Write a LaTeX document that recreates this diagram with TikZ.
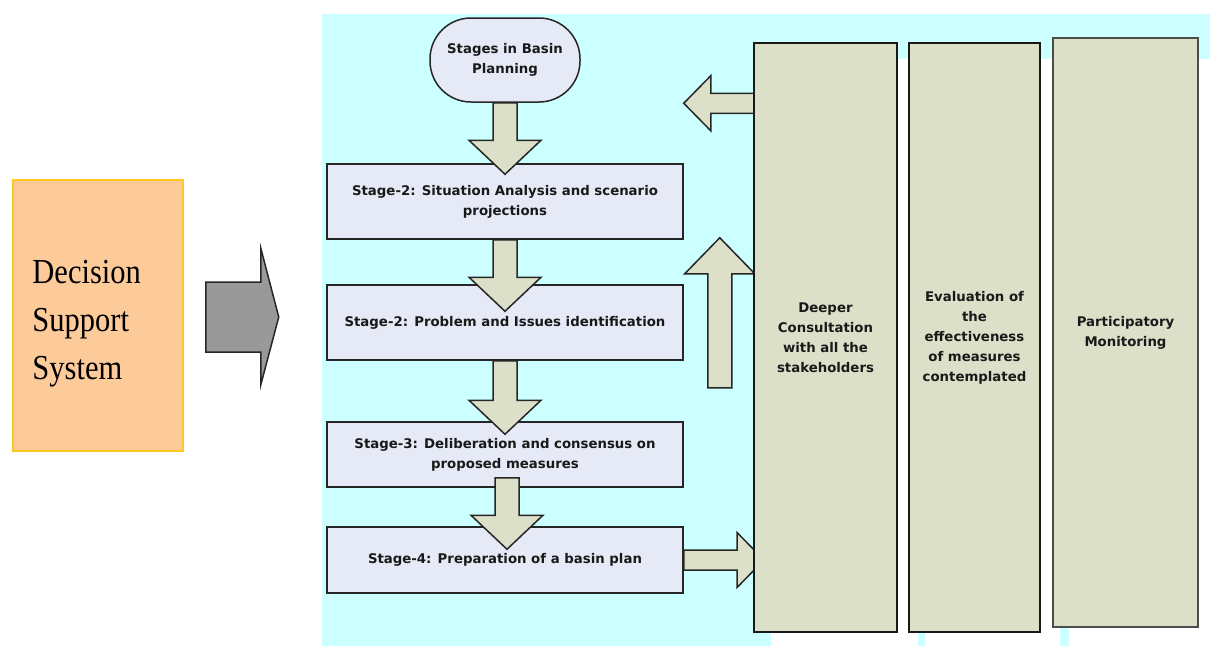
\documentclass[tikz,border=0pt]{standalone}
\usepackage{fontspec}
\usetikzlibrary{calc}
\newfontfamily\djv{DejaVu Sans}
\newfontfamily\tnr{Liberation Serif}
\definecolor{bgcyan}{HTML}{CCFFFF}
\definecolor{boxlav}{HTML}{E6EAF6}
\definecolor{khaki}{HTML}{DDE0C9}
\definecolor{peach}{HTML}{FDCA99}
\definecolor{gold}{HTML}{FFC81E}
\definecolor{grayarrow}{HTML}{999999}
\definecolor{edge}{HTML}{262626}
\pgfdeclarelayer{bg}
\pgfdeclarelayer{mid}
\pgfsetlayers{bg,mid,main}
\newcommand{\dnarrow}[2]{%
  \draw[barrow] ($(#1)+(-12,0)$) -- ($(#2)+(-12,-34)$) -- ($(#2)+(-36,-34)$) -- (#2)
    -- ($(#2)+(36,-34)$) -- ($(#2)+(12,-34)$) -- ($(#1)+(12,0)$) -- cycle;}
\newcommand{\tall}[1]{\scalebox{1}[1.15]{#1}}
\begin{document}
\begin{tikzpicture}[x=1pt,y=-1pt,
  lbl/.style={font=\djv\bfseries\fontsize{13.3}{20}\selectfont, text=black!90, align=center},
  stagebox/.style={lbl, draw=edge, line width=1.5pt, fill=boxlav, minimum width=356pt, inner sep=0pt},
  termbox/.style={lbl, draw=edge, line width=1.5pt, fill=boxlav, minimum width=150pt, minimum height=84pt, rounded corners=41pt, inner sep=0pt},
  colbox/.style={lbl, draw=black!90, line width=2pt, fill=khaki, inner sep=0pt, minimum height=589pt},
  barrow/.style={draw=edge, line width=1.5pt, fill=khaki, line join=miter},
  grayarr/.style={draw=edge, line width=1.5pt, fill=grayarrow, line join=miter},
  dssbox/.style={draw=gold, line width=1.5pt, fill=peach, minimum width=170pt, minimum height=271pt},
  dsstext/.style={align=left, inner sep=0pt, anchor=west, font=\tnr\fontsize{30.5}{48}\selectfont, text=black},
]
\useasboundingbox (0,0) rectangle (1210,646);

% nodes
\node[dssbox] (dss) at (98,315.5) {};
\node[dsstext] (dsst) at ($(dss.west)+(20,8)$) {\tall{Decision}\\\tall{Support}\\\tall{System}};
\node[termbox] (term) at (505,60) {Stages in Basin\\Planning};
\node[stagebox, minimum height=75pt] (s1) at (505,201.5) {Stage-2: Situation Analysis and scenario\\projections};
\node[stagebox, minimum height=75pt] (s2) at (505,322.5) {Stage-2: Problem and Issues identification};
\node[stagebox, minimum height=65pt] (s3) at (505,454.5) {Stage-3: Deliberation and consensus on\\proposed measures};
\node[stagebox, minimum height=66pt] (s4) at (505,560) {Stage-4: Preparation of a basin plan};
\node[colbox, minimum width=143pt] (c1) at (825.5,337.5) {Deeper\\Consultation\\with all the\\stakeholders};
\node[colbox, minimum width=131pt] (c2) at (974.5,337.5) {Evaluation of\\the\\effectiveness\\of measures\\contemplated};
\node[colbox, minimum width=145pt, draw=black!70] (c3) at (1125.5,332.5) {Participatory\\Monitoring};

% background
\begin{pgfonlayer}{bg}
  \fill[bgcyan] (322,14) rectangle (1210,646);
  \fill[white] ($(c1.north west)+(18,17)$) rectangle ($(c1.south east)+(20,30)$);
  \fill[white] ($(c2.north west)+(17,17)$) rectangle ($(c2.south east)+(19,30)$);
  \fill[white] ($(c3.north west)+(17,22)$) rectangle ($(c3.south east)+(30,30)$);
\end{pgfonlayer}

% arrows behind the columns
\begin{pgfonlayer}{mid}
  \coordinate (rt) at ($(s4.east -| c1.west)+(11,0)$);
  \draw[barrow] ($(s4.east)+(0,-10)$) -- ($(rt)+(-27,-10)$) -- ($(rt)+(-27,-27.5)$) -- (rt)
    -- ($(rt)+(-27,27.5)$) -- ($(rt)+(-27,10)$) -- ($(s4.east)+(0,10)$) -- cycle;
  \coordinate (lt) at ($(s1.north east)+(0,-60)$);
  \draw[barrow] ($(c1.west |- lt)+(10,-10)$) -- ($(lt)+(27,-10)$) -- ($(lt)+(27,-27.5)$) -- (lt)
    -- ($(lt)+(27,27.5)$) -- ($(lt)+(27,10)$) -- ($(c1.west |- lt)+(10,10)$) -- cycle;
  \coordinate (ut) at ($(s1.south east)+(36,-2)$);
  \coordinate (ub) at ($(s2.south east)+(36,27)$);
  \draw[barrow] ($(ub)+(-12,0)$) -- ($(ut)+(-12,36)$) -- ($(ut)+(-35,36)$) -- (ut)
    -- ($(ut)+(35,36)$) -- ($(ut)+(12,36)$) -- ($(ub)+(12,0)$) -- cycle;
\end{pgfonlayer}

% down arrows between stages
\coordinate (t1) at ($(s1.north)+(0,11)$);
\dnarrow{term.south}{t1}
\coordinate (t2) at ($(s2.north)+(0,27)$);
\dnarrow{s1.south}{t2}
\coordinate (t3) at ($(s3.north)+(0,13)$);
\dnarrow{s2.south}{t3}
\coordinate (f4) at ($(s3.south)+(2,-10)$);
\coordinate (t4) at ($(s4.north)+(2,23)$);
\dnarrow{f4}{t4}

% grey arrow from DSS
\coordinate (g0) at ($(dss.east)+(22,1.5)$);
\coordinate (gt) at ($(dss.east)+(95,1.5)$);
\draw[grayarr] ($(g0)+(0,-35)$) -- ($(gt)+(-18,-35)$) -- ($(gt)+(-18,-69)$) -- (gt)
  -- ($(gt)+(-18,68)$) -- ($(gt)+(-18,35)$) -- ($(g0)+(0,35)$) -- cycle;
\end{tikzpicture}
\end{document}
